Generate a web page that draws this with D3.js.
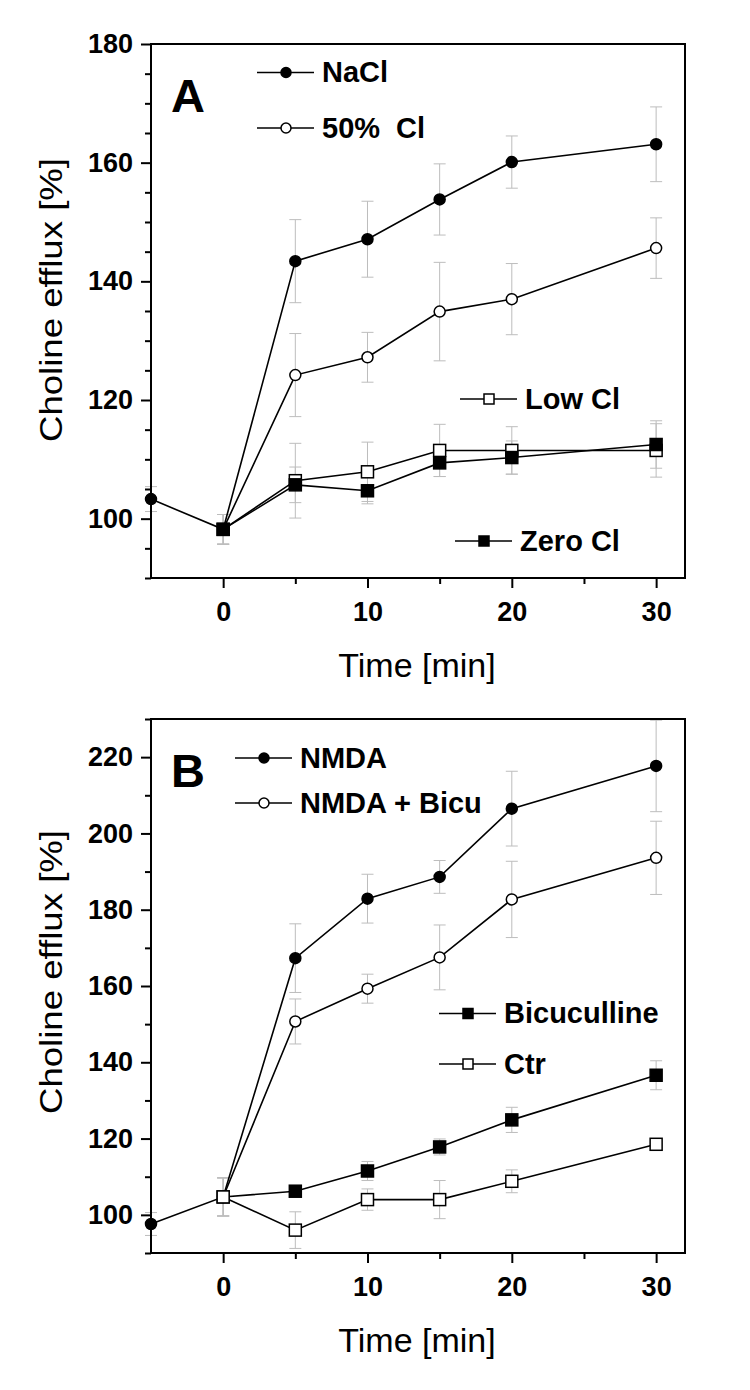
<!DOCTYPE html>
<html><head><meta charset="utf-8">
<script src="https://cdn.jsdelivr.net/npm/d3@7"></script>
<style>body{margin:0;background:#fff} text{font-family:"Liberation Sans",Arial,Helvetica,sans-serif}</style>
</head><body><svg id="c" width="750" height="1390"></svg>
<script>
// ---------- DATA ----------
const timesWithPre = [-5, 0, 5, 10, 15, 20, 30];
const times = [0, 5, 10, 15, 20, 30];

// Panel A
const naclValues   = [103.3, 98.2, 143.4, 147.1, 153.8, 160.1, 163.1];
const naclErrors   = [2.1, 2.5, 7.0, 6.4, 6.0, 4.4, 6.3];
const cl50Values   = [98.2, 124.2, 127.2, 134.9, 137.0, 145.6];
const cl50Errors   = [2.5, 7.0, 4.2, 8.3, 6.0, 5.1];
const lowClValues  = [98.2, 106.4, 107.9, 111.5, 111.5, 111.5];
const lowClErrors  = [2.5, 6.3, 5.0, 4.4, 4.0, 4.5];
const zeroClValues = [98.2, 105.7, 104.7, 109.4, 110.3, 112.5];
const zeroClErrors = [2.5, 3.0, 2.2, 2.3, 2.8, 4.0];

// Panel B
const nmdaValues     = [97.6, 104.7, 167.3, 182.9, 188.6, 206.5, 217.7];
const nmdaErrors     = [3.0, 5.0, 9.0, 6.4, 4.3, 9.8, 12.0];
const nmdaBicuValues = [104.7, 150.7, 159.3, 167.5, 182.7, 193.6];
const nmdaBicuErrors = [5.0, 5.9, 3.8, 8.5, 10.0, 9.6];
const bicuValues     = [104.7, 106.2, 111.5, 117.8, 124.9, 136.6];
const bicuErrors     = [5.0, 1.5, 2.5, 2.1, 3.3, 3.8];
const ctrValues      = [104.7, 96.0, 104.0, 104.0, 108.8, 118.5];
const ctrErrors      = [5.0, 4.8, 2.8, 5.0, 3.0, 1.5];

// Axis ticks
const xMajorTicks = [0, 10, 20, 30];
const xMinorTicks = [5, 15, 25];
const yMajorTicksA = [100, 120, 140, 160, 180];
const yMajorTicksB = [100, 120, 140, 160, 180, 200, 220];

// ---------- DRAW ----------
const svg = d3.select("#c");
const FONT_BOLD = 27;

function zip(t, v, e){ return t.map((d,i)=>({t:d, v:v[i], e:e[i]})); }

function marker(sel, shape, fill, cx, cy, size){
  if(shape==="circle"){
    sel.append("circle").attr("cx",cx).attr("cy",cy).attr("r",size/2)
      .attr("fill",fill).attr("stroke","#000").attr("stroke-width",1.5);
  } else {
    sel.append("rect").attr("x",cx-size/2).attr("y",cy-size/2).attr("width",size).attr("height",size)
      .attr("fill",fill).attr("stroke","#000").attr("stroke-width",1.5);
  }
}

function drawPanel(cfg){
  const x = d3.scaleLinear().domain([-5, 32]).range([151, 685]);
  const y = d3.scaleLinear().domain(cfg.yDomain).range([cfg.bottom, cfg.top]);
  const g = svg.append("g");

  // error bars
  cfg.series.forEach(s=>{
    const eg = g.append("g").attr("stroke","#bdbdbd").attr("stroke-width",1).attr("fill","none");
    s.data.forEach(d=>{
      eg.append("line").attr("x1",x(d.t)).attr("x2",x(d.t)).attr("y1",y(d.v-d.e)).attr("y2",y(d.v+d.e));
      eg.append("line").attr("x1",x(d.t)-6).attr("x2",x(d.t)+6).attr("y1",y(d.v-d.e)).attr("y2",y(d.v-d.e));
      eg.append("line").attr("x1",x(d.t)-6).attr("x2",x(d.t)+6).attr("y1",y(d.v+d.e)).attr("y2",y(d.v+d.e));
    });
  });
  // lines
  const line = d3.line().x(d=>x(d.t)).y(d=>y(d.v));
  cfg.series.forEach(s=>{
    g.append("path").datum(s.data).attr("d",line).attr("fill","none").attr("stroke","#000").attr("stroke-width",1.6);
  });
  // markers
  cfg.series.forEach(s=>{
    s.data.forEach(d=> marker(g, s.shape, s.fill, x(d.t), y(d.v), s.shape==="circle"?11:12));
  });

  // frame
  g.append("rect").attr("x",151).attr("y",cfg.top).attr("width",685-151).attr("height",cfg.bottom-cfg.top)
    .attr("fill","none").attr("stroke","#000").attr("stroke-width",2);

  // y axis
  const yMinor = d3.range(cfg.yDomain[0], cfg.yDomain[1]+0.01, cfg.yMinorStep).filter(v=>!cfg.yMajor.includes(v));
  const yAxMinor = g.append("g").attr("transform","translate(151,0)")
    .call(d3.axisLeft(y).tickValues(yMinor).tickSize(6).tickFormat(""));
  const yAx = g.append("g").attr("transform","translate(151,0)")
    .call(d3.axisLeft(y).tickValues(cfg.yMajor).tickSize(10).tickPadding(8).tickFormat(d3.format("d")));
  [yAxMinor,yAx].forEach(a=>{a.select(".domain").remove(); a.selectAll("line").attr("stroke","#000").attr("stroke-width",2);});
  yAx.selectAll("text").attr("font-size",FONT_BOLD).attr("font-weight","bold").attr("fill","#000")
    .attr("font-family","Liberation Sans, Arial, sans-serif");

  // x axis
  const xAxMinor = g.append("g").attr("transform",`translate(0,${cfg.bottom})`)
    .call(d3.axisBottom(x).tickValues(xMinorTicks).tickSize(6).tickFormat(""));
  const xAx = g.append("g").attr("transform",`translate(0,${cfg.bottom})`)
    .call(d3.axisBottom(x).tickValues(xMajorTicks).tickSize(10).tickPadding(14).tickFormat(d3.format("d")));
  [xAxMinor,xAx].forEach(a=>{a.select(".domain").remove(); a.selectAll("line").attr("stroke","#000").attr("stroke-width",2);});
  xAx.selectAll("text").attr("font-size",FONT_BOLD).attr("font-weight","bold").attr("fill","#000")
    .attr("font-family","Liberation Sans, Arial, sans-serif");

  // axis titles
  svg.append("text").attr("x",417).attr("y",cfg.bottom+99).attr("text-anchor","middle")
    .attr("font-size",34).text("Time [min]");
  svg.append("text").attr("transform",`translate(62,${cfg.yTitleCenter}) rotate(-90)`)
    .attr("text-anchor","middle").attr("font-size",32)
    .attr("textLength",284).attr("lengthAdjust","spacingAndGlyphs").text("Choline efflux [%]");

  // panel letter
  svg.append("text").attr("x",171).attr("y",cfg.letterY).attr("font-size",47).attr("font-weight","bold").text(cfg.letter);

  // legend
  cfg.legend.forEach(l=>{
    const s = cfg.series[l.idx];
    svg.append("line").attr("x1",l.x).attr("x2",l.x+57).attr("y1",l.y).attr("y2",l.y).attr("stroke","#000").attr("stroke-width",1.6);
    marker(svg, s.shape, s.fill, l.x+29, l.y, 10);
    svg.append("text").attr("x",l.x+65).attr("y",l.y+9.5).attr("font-size",29).attr("font-weight","bold")
      .attr("word-spacing", l.ws || 0).text(s.name);
  });
}

drawPanel({
  top:44, bottom:578, yDomain:[90,180], yMajor:yMajorTicksA, yMinorStep:5,
  yTitleCenter:300, letter:"A", letterY:112,
  series:[
    {name:"NaCl", shape:"circle", fill:"#000", data:zip(timesWithPre, naclValues, naclErrors)},
    {name:"50% Cl", shape:"circle", fill:"#fff", data:zip(times, cl50Values, cl50Errors)},
    {name:"Low Cl", shape:"rect", fill:"#fff", data:zip(times, lowClValues, lowClErrors)},
    {name:"Zero Cl", shape:"rect", fill:"#000", data:zip(times, zeroClValues, zeroClErrors)}
  ],
  legend:[{idx:0,x:257,y:72.5},{idx:1,x:257,y:128,ws:8},{idx:2,x:460,y:399},{idx:3,x:455,y:541}]
});

drawPanel({
  top:719, bottom:1253, yDomain:[90,230], yMajor:yMajorTicksB, yMinorStep:10,
  yTitleCenter:972, letter:"B", letterY:787,
  series:[
    {name:"NMDA", shape:"circle", fill:"#000", data:zip(timesWithPre, nmdaValues, nmdaErrors)},
    {name:"NMDA + Bicu", shape:"circle", fill:"#fff", data:zip(times, nmdaBicuValues, nmdaBicuErrors)},
    {name:"Bicuculline", shape:"rect", fill:"#000", data:zip(times, bicuValues, bicuErrors)},
    {name:"Ctr", shape:"rect", fill:"#fff", data:zip(times, ctrValues, ctrErrors)}
  ],
  legend:[{idx:0,x:235,y:758},{idx:1,x:235,y:803},{idx:2,x:439,y:1013.5},{idx:3,x:439,y:1064}]
});
</script></body></html>
